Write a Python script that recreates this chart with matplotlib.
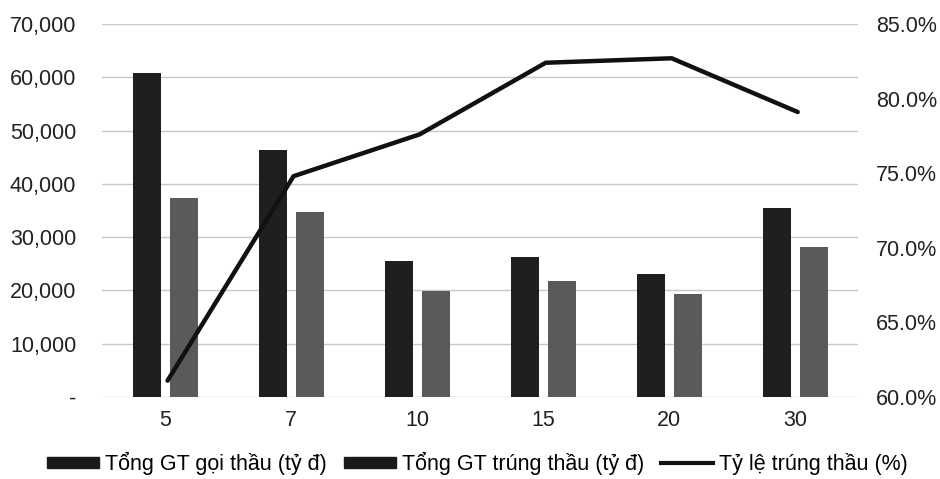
import numpy as np
import matplotlib.pyplot as plt
from matplotlib.patches import Patch
from matplotlib.lines import Line2D
from matplotlib.ticker import FuncFormatter

plt.rcParams['font.family'] = ['Liberation Sans', 'DejaVu Sans']

categories = ['5', '7', '10', '15', '20', '30']
goi_thau = [60800, 46300, 25500, 26300, 23100, 35500]
trung_thau = [37300, 34700, 19900, 21800, 19300, 28100]
ty_le = [61.1, 74.8, 77.6, 82.4, 82.7, 79.1]

fig = plt.figure(figsize=(9.4, 4.79), dpi=100)
ax = fig.add_axes([0.1085, 0.171, 0.8045, 0.779])
ax2 = ax.twinx()

x = np.arange(len(categories))
w = 0.22
ax.bar(x - 0.145, goi_thau, w, color='#1f1f1f', zorder=2)
ax.bar(x + 0.15, trung_thau, w, color='#5a5a5a', zorder=2)
ax2.plot(x + 0.02, ty_le, color='#111111', lw=3.2, solid_capstyle='round', zorder=3)

ax.set_xlim(-0.5, len(categories) - 0.5)
ax.set_ylim(0, 70000)
ax.set_yticks(np.arange(0, 70001, 10000))
ax.yaxis.set_major_formatter(FuncFormatter(lambda v, p: '-' if v == 0 else f'{v:,.0f}'))
ax2.set_ylim(60, 85)
ax2.set_yticks(np.arange(60, 85.1, 5))
ax2.yaxis.set_major_formatter(FuncFormatter(lambda v, p: f'{v:.1f}%'))

ax.set_xticks(x)
ax.set_xticklabels(categories)
ax.grid(axis='y', color='#c8c8c8', lw=1, zorder=0)
ax.set_axisbelow(True)

fs = 15.5
for a in (ax, ax2):
    for s in a.spines.values():
        s.set_visible(False)
    a.tick_params(length=0, labelsize=fs, colors='#222222')
ax.tick_params(axis='y', pad=18.5)
ax.tick_params(axis='x', pad=9)
ax2.tick_params(axis='y', pad=13)

handles = [
    Patch(color='#1a1a1a'),
    Patch(color='#1a1a1a'),
    Line2D([0], [0], color='#111111', lw=3),
]
labels = ['Tổng GT gọi thầu (tỷ đ)', 'Tổng GT trúng thầu (tỷ đ)', 'Tỷ lệ trúng thầu (%)']
fig.legend(handles, labels, loc='lower center', bbox_to_anchor=(0.508, 0.004), ncol=3,
           frameon=False, fontsize=fs, handlelength=2.4, handleheight=0.4,
           handletextpad=0.28, columnspacing=0.8, borderaxespad=0, borderpad=0.1)

fig.savefig('out.png', dpi=100)
